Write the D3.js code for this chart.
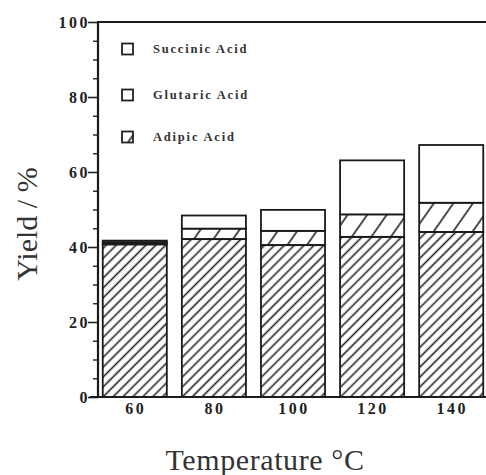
<!DOCTYPE html>
<html>
<head>
<meta charset="utf-8">
<script src="https://cdn.jsdelivr.net/npm/d3@7"></script>
<style>
    body { margin: 0; background: #fff; }
    .tickText { font-family: "Liberation Serif", "DejaVu Serif", serif; font-weight: bold; font-size: 16px; letter-spacing: 2.5px; fill: #222; }
    .legendText { font-family: "Liberation Serif", "DejaVu Serif", serif; font-weight: bold; font-size: 12.5px; letter-spacing: 1.8px; fill: #333; }
    .axisTitle { font-family: "Liberation Serif", "DejaVu Serif", serif; font-size: 30px; fill: #333; }
</style>
</head>
<body>
<div id="chart"></div>
<script>

// temperatures (x categories) and yields in %
let temperatures = ["60", "80", "100", "120", "140"];
let adipic   = [40.7, 42.1, 40.5, 42.7, 44.0];
let glutaric = [0.5, 2.8, 3.8, 6.0, 7.8];
let succinic = [0.5, 3.5, 5.6, 14.4, 15.4];
let yTicks = [0, 20, 40, 60, 80, 100];
let legendNames = ["Succinic Acid", "Glutaric Acid", "Adipic Acid"];

let width = 486, height = 475;
let plot = {left: 98, right: 488, top: 22, bottom: 397};

let svg = d3.select("#chart").append("svg")
    .attr("width", width)
    .attr("height", height);

// hatch patterns
let defs = svg.append("defs");
defs.append("pattern")
    .attr("id", "hatchDense")
    .attr("patternUnits", "userSpaceOnUse")
    .attr("width", 7).attr("height", 10)
    .attr("patternTransform", "rotate(45)")
    .append("line")
    .attr("x1", 3.5).attr("y1", 0).attr("x2", 3.5).attr("y2", 10)
    .attr("stroke", "#222").attr("stroke-width", 1.6);
defs.append("pattern")
    .attr("id", "hatchSparse")
    .attr("patternUnits", "userSpaceOnUse")
    .attr("width", 16).attr("height", 10)
    .attr("patternTransform", "rotate(35)")
    .append("line")
    .attr("x1", 8).attr("y1", 0).attr("x2", 8).attr("y2", 10)
    .attr("stroke", "#222").attr("stroke-width", 1.6);

let rows = temperatures.map((t, i) => ({
    temp: t, adipic: adipic[i], glutaric: glutaric[i], succinic: succinic[i]
}));
let keys = ["adipic", "glutaric", "succinic"];
let fills = {adipic: "url(#hatchDense)", glutaric: "url(#hatchSparse)", succinic: "#fff"};

let xScale = d3.scaleBand()
    .domain(temperatures)
    .range([plot.left, plot.right])
    .paddingInner(0.19)
    .paddingOuter(0.06);

let yScale = d3.scaleLinear()
    .domain([0, 100])
    .range([plot.bottom, plot.top]);

let stacked = d3.stack().keys(keys)(rows);

let layers = svg.append("g").selectAll("g")
    .data(stacked)
    .enter().append("g")
    .attr("fill", d => fills[d.key]);

layers.selectAll("rect")
    .data(d => d)
    .enter().append("rect")
    .attr("x", d => xScale(d.data.temp))
    .attr("width", xScale.bandwidth())
    .attr("y", d => yScale(d[1]))
    .attr("height", d => yScale(d[0]) - yScale(d[1]))
    .attr("stroke", "#1a1a1a")
    .attr("stroke-width", 1.8);

// y axis: major and minor ticks
let yMajor = svg.append("g")
    .attr("transform", "translate(" + plot.left + ",0)")
    .call(d3.axisLeft(yScale).tickValues(yTicks).tickSize(10).tickPadding(0).tickSizeOuter(0));
yMajor.select(".domain").remove();
yMajor.selectAll("line").attr("stroke", "#222").attr("stroke-width", 1.6);
yMajor.selectAll("text").attr("class", "tickText").attr("dx", 2);

let minorValues = d3.range(5, 100, 5).filter(v => v % 20 !== 0);
let yMinor = svg.append("g")
    .attr("transform", "translate(" + plot.left + ",0)")
    .call(d3.axisLeft(yScale).tickValues(minorValues).tickSize(5).tickFormat("").tickSizeOuter(0));
yMinor.select(".domain").remove();
yMinor.selectAll("line").attr("stroke", "#222").attr("stroke-width", 1.4);

// axis lines
svg.append("line")
    .attr("x1", plot.left).attr("x2", plot.left)
    .attr("y1", yScale(100) - 1).attr("y2", yScale(0))
    .attr("stroke", "#1a1a1a").attr("stroke-width", 2.2);
svg.append("line")
    .attr("x1", plot.left).attr("x2", width)
    .attr("y1", yScale(100)).attr("y2", yScale(100))
    .attr("stroke", "#1a1a1a").attr("stroke-width", 2.2);

// x axis
let xAxis = svg.append("g")
    .attr("transform", "translate(0," + plot.bottom + ")")
    .call(d3.axisBottom(xScale).tickSize(0).tickPadding(6).tickSizeOuter(0));
xAxis.select(".domain").remove();
xAxis.selectAll("text").attr("class", "tickText").attr("dx", 1);
svg.append("line")
    .attr("x1", plot.left - 8).attr("x2", width)
    .attr("y1", yScale(0)).attr("y2", yScale(0))
    .attr("stroke", "#1a1a1a").attr("stroke-width", 2.2);

// legend
let legendY = [49, 95, 137];
let legendFill = ["#fff", "#fff", "url(#hatchSparse)"];
let legend = svg.append("g").selectAll("g")
    .data(legendNames)
    .enter().append("g")
    .attr("transform", (d, i) => "translate(122," + legendY[i] + ")");
legend.append("rect")
    .attr("x", 0).attr("y", -5.5)
    .attr("width", 11).attr("height", 11)
    .attr("fill", (d, i) => legendFill[i])
    .attr("stroke", "#222").attr("stroke-width", 1.8);
legend.append("text")
    .attr("class", "legendText")
    .attr("x", 31).attr("y", 4)
    .text(d => d);

// titles
svg.append("text")
    .attr("class", "axisTitle")
    .attr("text-anchor", "middle")
    .attr("transform", "translate(37,224) rotate(-90)")
    .text("Yield / %");
svg.append("text")
    .attr("class", "axisTitle")
    .attr("text-anchor", "middle")
    .attr("x", 265).attr("y", 470)
    .style("letter-spacing", "0.6px")
    .text("Temperature \u00B0C");

</script>
</body>
</html>
